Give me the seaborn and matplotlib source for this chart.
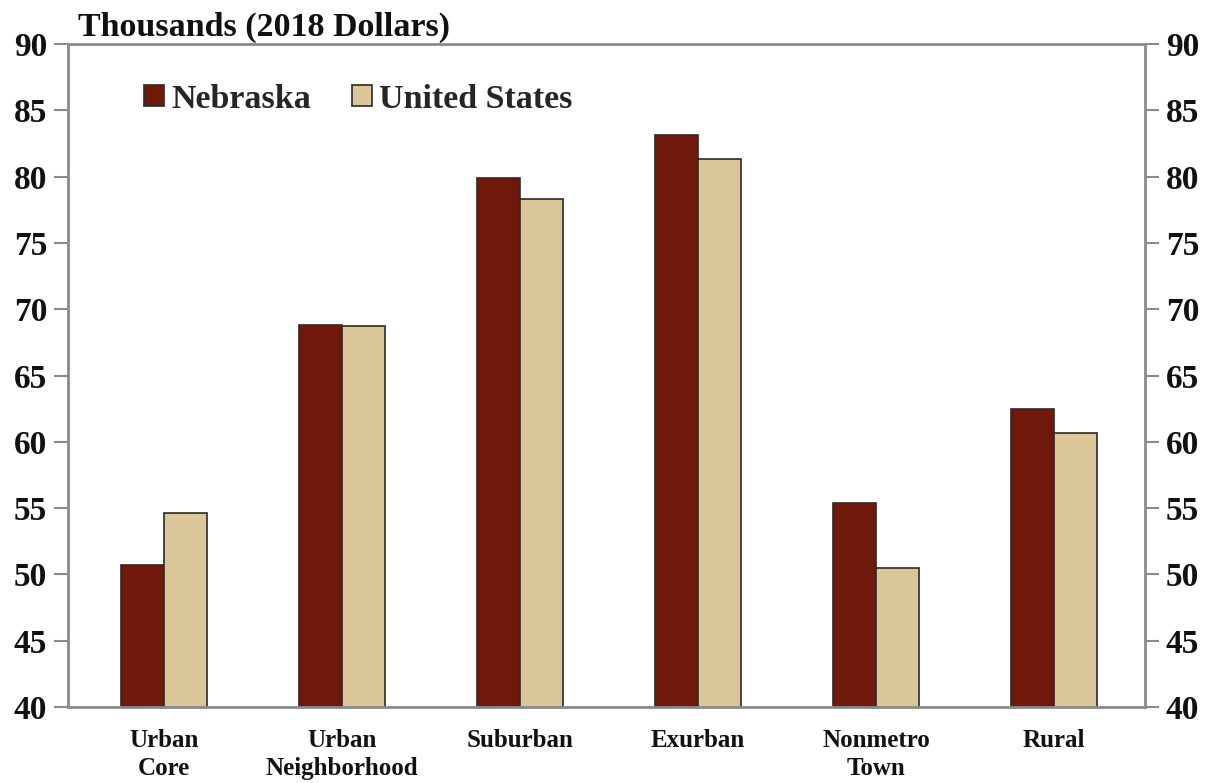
import matplotlib
matplotlib.use("Agg")
import matplotlib.pyplot as plt
import seaborn as sns
import pandas as pd

categories = ["Urban\nCore", "Urban\nNeighborhood", "Suburban", "Exurban", "Nonmetro\nTown", "Rural"]
nebraska = [50.7, 68.8, 79.9, 83.1, 55.4, 62.5]
united_states = [54.6, 68.7, 78.3, 81.3, 50.5, 60.7]
series_names = ["Nebraska", "United States"]
yticks = [40, 45, 50, 55, 60, 65, 70, 75, 80, 85, 90]

df = pd.DataFrame({
    "category": categories * 2,
    "value": nebraska + united_states,
    "series": [series_names[0]] * len(categories) + [series_names[1]] * len(categories),
})

sns.set_style("white")
plt.rcParams["font.family"] = ["Liberation Serif", "DejaVu Serif"]
plt.rcParams["font.weight"] = "bold"

fig = plt.figure(figsize=(12.17, 7.83), dpi=100)
ax = fig.add_axes([68 / 1217, 1 - 707 / 783, (1145 - 68) / 1217, (707 - 44) / 783])

palette = {"Nebraska": "#6e190b", "United States": "#dbc699"}
sns.barplot(data=df, x="category", y="value", hue="series", order=categories,
            hue_order=series_names, palette=palette, width=0.483, gap=0,
            edgecolor="#2a2a2a", linewidth=1.2, saturation=1, ax=ax, legend=True)

ax.set_ylim(40, 90)
ax.set_xlim(-0.54, 5.51)
ax.set_yticks(yticks)
ax.set_xlabel("")
ax.set_ylabel("")

for s in ax.spines.values():
    s.set_color("#8a8a8a")
    s.set_linewidth(2)

ax.tick_params(axis="y", which="both", left=True, right=True, labelleft=True, labelright=True,
               direction="out", length=10, width=1.5, color="#8a8a8a", labelsize=24, pad=5)
ax.tick_params(axis="x", bottom=False, labelsize=18, pad=12)
for lab in ax.get_yticklabels() + ax.get_xticklabels():
    lab.set_fontweight("bold")
    lab.set_color("#111111")
for lab in ax.get_xticklabels():
    lab.set_linespacing(1.3)

fig.text(78 / 1217, 1 - 27 / 783, "Thousands (2018 Dollars)", fontsize=24.5, fontweight="bold",
         va="center", ha="left", color="#111111")

leg = ax.legend(loc="center left", bbox_to_anchor=(0.0706, 0.917), ncol=2, frameon=False,
                handlelength=0.6, handleheight=0.6, handletextpad=0.2, borderpad=0,
                borderaxespad=0, columnspacing=1.2, prop={"weight": "bold", "size": 24.5})

fig.savefig("out.png", dpi=100, facecolor="white")
